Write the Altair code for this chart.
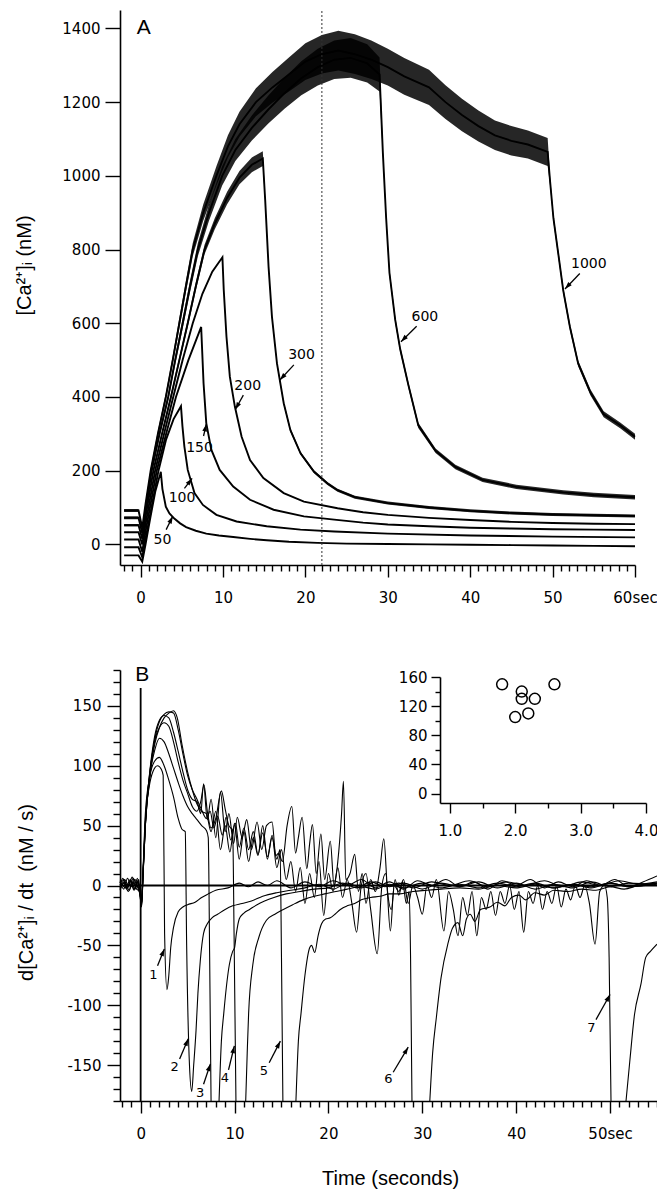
import math
import altair as alt
import pandas as pd

# ======================= DATA : panel A  ([Ca2+]i traces) =======================
A_names = ["1000", "600", "300", "200", "150", "100", "50"]
A_t = {
    "1000": [-2.0, -0.25, 0.2, 0.6, 1.22, 2.1, 3.06, 3.9, 4.7, 5.5, 6.33, 7.6, 9.2, 10.6, 12.0, 14.0, 16.0, 18.0,
             20.0, 22.0, 24.0, 26.0, 28.0, 30.0, 32.0, 35.0, 37.0, 39.0, 41.0, 43.0, 45.0, 47.0, 49.4, 49.7, 50.1,
             50.7, 51.3, 52.1, 53.1, 54.6, 56.2, 58.2, 60.0],
    "600": [-2.0, -0.25, 0.2, 0.6, 1.35, 2.3, 3.35, 4.2, 5.11, 6.0, 6.95, 8.3, 9.9, 11.5, 13.5, 15.5, 17.5, 19.5,
            21.5, 23.5, 25.5, 27.5, 29.0, 29.4, 29.8, 30.2, 30.9, 31.5, 32.5, 33.7, 35.8, 38.2, 41.5, 45.6, 51.3,
            55.0, 60.0],
    "300": [-2.0, -0.25, 0.2, 0.6, 1.55, 2.6, 3.68, 4.7, 5.72, 6.7, 7.76, 9.0, 10.5, 12.0, 13.5, 14.83, 15.12,
            15.53, 15.94, 16.55, 17.37, 18.18, 19.41, 21.05, 22.68, 23.9, 26.0, 30.0, 35.0, 40.0, 45.0, 50.0, 55.0,
            60.0],
    "200": [-2.0, -0.25, 0.2, 0.6, 1.76, 2.85, 3.96, 5.1, 6.33, 7.5, 8.7, 9.93, 10.09, 10.42, 10.83, 11.44, 12.26,
            13.28, 14.9, 17.37, 19.82, 23.9, 27.0, 30.0, 35.0, 40.0, 45.0, 50.0, 55.0, 60.0],
    "150": [-2.0, -0.25, 0.2, 0.6, 1.96, 3.1, 4.29, 5.8, 7.35, 7.64, 7.97, 8.58, 9.6, 11.24, 13.28, 16.14, 19.82,
            23.5, 27.0, 30.0, 35.0, 40.0, 45.0, 50.0, 55.0, 60.0],
    "100": [-2.0, -0.25, 0.2, 0.6, 2.17, 3.1, 4.0, 4.9, 5.08, 5.31, 5.72, 6.54, 7.56, 9.2, 11.65, 15.3, 19.4, 23.5,
            30.0, 40.0, 50.0, 60.0],
    "50": [-2.0, -0.25, 0.2, 0.6, 1.2, 1.8, 2.37, 2.45, 2.65, 3.06, 3.5, 4.09, 4.8, 5.52, 6.7, 7.97, 9.5, 11.24,
           13.3, 15.32, 18.0, 21.45, 25.0, 30.0, 35.0, 40.0, 45.0, 50.0, 55.0, 60.0],
}
A_v = {
    "1000": [92, 92, 45, 110, 200, 300, 400, 500, 600, 700, 800, 900, 1000, 1080, 1140, 1200, 1240, 1275, 1310,
             1330, 1340, 1330, 1315, 1295, 1270, 1240, 1200, 1165, 1135, 1110, 1095, 1085, 1065, 984, 885, 787,
             688, 590, 491, 412, 353, 323, 292],
    "600": [72, 72, 30, 90, 200, 300, 400, 500, 600, 700, 800, 900, 1000, 1070, 1130, 1180, 1225, 1265, 1295, 1315,
            1320, 1305, 1275, 1063, 885, 737, 609, 530, 432, 323, 254, 210, 175, 156, 141, 134, 128],
    "300": [52, 52, 15, 75, 200, 300, 400, 500, 600, 700, 800, 870, 940, 995, 1030, 1047, 934, 753, 618, 491, 383,
            310, 247, 197, 165, 147, 128, 112, 100, 91, 85, 81, 79, 77],
    "200": [33, 33, 0, 55, 200, 300, 400, 500, 600, 680, 740, 779, 691, 564, 455, 374, 292, 229, 180, 139, 116, 98,
            87, 80, 72, 66, 61, 58, 56, 55],
    "150": [13, 13, -20, 35, 200, 300, 400, 500, 590, 437, 329, 257, 202, 157, 121, 94, 76, 67, 59, 54, 49, 45, 43,
            41, 40, 39],
    "100": [-8, -8, -35, 15, 200, 285, 340, 375, 320, 266, 202, 139, 107, 80, 62, 49, 40, 35, 29, 24, 21, 19],
    "50": [-30, -30, -47, 0, 75, 145, 190, 197, 150, 102, 84, 70, 57, 47, 37, 29, 24, 20, 15, 11, 7, 4, 2, 1, 0,
           -1, -2, -3, -4, -5],
}
# half-width of the noise band seen on the noisy traces (nM)
A_w = {
    "1000": [4, 4, 4, 5, 6, 8, 10, 12, 14, 16, 18, 22, 26, 30, 34, 38, 42, 46, 50, 52, 54, 54, 52, 50, 50, 48, 46,
             44, 42, 40, 40, 38, 38, 12, 10, 10, 9, 9, 8, 8, 8, 8, 8],
    "600": [4, 4, 4, 5, 6, 8, 10, 12, 14, 16, 18, 22, 26, 30, 34, 38, 42, 46, 50, 52, 54, 52, 46, 12, 10, 10, 9, 8,
            8, 7, 6, 6, 6, 6, 6, 6, 6],
    "300": [3, 3, 3, 4, 5, 6, 8, 9, 10, 12, 13, 15, 17, 18, 20, 20, 8, 6, 6, 5, 5, 5, 4, 4, 4, 4, 4, 4, 4, 4, 4, 4,
            4, 4],
}
A_lab = ["50", "100", "150", "200", "300", "600", "1000"]
A_lab_t = [2.66, 5.03, 7.15, 13.0, 19.53, 34.5, 54.4]
A_lab_v = [12, 125, 262, 430, 515, 616, 762]
A_arr_t0 = [3.1, 5.32, 7.64, 12.47, 18.6, 33.5, 53.3]
A_arr_v0 = [40, 152, 294, 405, 487, 592, 735]
A_arr_t1 = [3.9, 6.25, 7.97, 11.5, 16.9, 31.6, 51.5]
A_arr_v1 = [76, 179, 326, 366, 446, 550, 693]
A_dot_t = 22.0

# ======================= DATA : panel B  (d[Ca2+]i/dt traces) =======================
B1 = [(-2.2, 2), (-1.8, 5), (-1.4, -2), (-1.0, 4), (-0.6, -3), (-0.3, 3), (-0.05, -8), (0.1, -15), (0.25, 10),
      (0.5, 55), (0.9, 82), (1.3, 95), (1.8, 100), (2.2, 97), (2.4, 92), (2.55, -40), (2.8, -87), (3.0, -75),
      (3.2, -52), (3.5, -35), (4.0, -22), (4.5, -18), (5.0, -16), (5.8, -14), (6.5, -10), (7.2, -7), (8.0, -4),
      (9.3, -2), (10.5, 2), (11.5, -1), (12.5, 3), (13.5, 0), (14.5, 4), (16, -2), (17.5, 3), (19, -1), (20.5, 4),
      (22, 0), (23.5, 5), (25, -2), (26.5, 3), (28, -3), (29.5, 4), (31, 0), (32.5, 5), (34, -1), (35.5, 3),
      (37, -3), (38.5, 4), (40, 0), (41.5, 5), (43, -2), (44.5, 3), (46, -1), (47.5, 4), (49, 0), (50.5, 5),
      (52, -1), (53.5, 3), (55, 8)]
B2 = [(-2.2, -3), (-1.7, 3), (-1.2, -4), (-0.8, 6), (-0.4, 0), (-0.05, -5), (0.1, -12), (0.25, 12), (0.5, 60),
      (1.0, 92), (1.5, 104), (2.0, 107), (2.5, 100), (3.0, 88), (3.5, 74), (4.0, 56), (4.4, 47), (4.75, 45),
      (4.9, -50), (5.2, -150), (5.44, -172), (5.65, -150), (5.9, -121), (6.1, -90), (6.35, -63), (6.7, -40),
      (7.1, -32), (7.6, -27), (8.2, -24), (9.0, -20), (9.8, -17), (10.8, -15), (11.8, -13), (13, -9), (14.5, -6),
      (16, -4), (17.5, -2), (19, 1), (20.5, -3), (22, 2), (23.5, -2), (25, 3), (26.5, -1), (28, 2), (30, -3),
      (32, 2), (34, -1), (36, 3), (38, -2), (40, 2), (42, -3), (44, 1), (46, -2), (48, 3), (50, -1), (52, 2),
      (55, 0)]
B3a = [(-2.2, 4), (-1.6, -2), (-1.1, 5), (-0.7, -3), (-0.3, 4), (-0.05, -10), (0.1, -18), (0.25, 8), (0.5, 50),
       (1.0, 93), (1.5, 113), (2.0, 123), (2.5, 120), (3.0, 110), (3.5, 98), (4.0, 86), (4.5, 75), (5.0, 66),
       (5.5, 60), (6.0, 55), (6.5, 50), (7.0, 46), (7.2, 40), (7.35, -60), (7.5, -180)]
B3b = [(8.35, -180), (8.6, -130), (8.85, -107), (9.2, -80), (9.45, -66), (9.8, -55), (10.0, -52), (10.2, -40),
       (10.5, -28), (11.0, -23), (11.6, -20), (12.4, -16), (13.2, -13), (14.2, -10), (15.5, -7), (17, -5),
       (18.5, -3), (20, -2), (21.5, 2), (23, -2), (24.5, 3), (26, -1), (27.5, 2), (29, -2), (31, 3), (33, 0),
       (35, 4), (37, -1), (39, 3), (41, 0), (43, 4), (45, -1), (47, 3), (49, 0), (51, 4), (53, 1), (55, 3)]
B4a = [(-2.2, -2), (-1.7, 5), (-1.3, 0), (-0.9, 7), (-0.5, -2), (-0.05, -6), (0.1, -14), (0.25, 10), (0.5, 52),
       (1.0, 96), (1.5, 121), (2.0, 132), (2.5, 136), (3.0, 133), (3.5, 120), (4.0, 103), (4.5, 88), (5.0, 77),
       (5.5, 66), (6.0, 62), (6.4, 70), (6.75, 84), (7.1, 62), (7.5, 48), (8.0, 56), (8.6, 79), (9.0, 64),
       (9.4, 50), (9.8, 46), (9.95, -40), (10.15, -180)]
B4b = [(11.19, -180), (11.35, -140), (11.5, -107), (11.95, -66), (12.6, -43), (13.4, -29), (14.3, -24),
       (15.2, -20), (16.2, -16), (17.3, -12), (18.5, -9), (19.6, -7), (20.8, -5), (22, -3), (23.5, -1), (25, -3),
       (26.5, 1), (28, -2), (30, 2), (32, -2), (34, 1), (36, -2), (38, 2), (40, -1), (42, 2), (44, -2), (46, 1),
       (48, -2), (50, 2), (52, -1), (55, 1)]
B5a = [(-2.2, 3), (-1.8, -3), (-1.4, 6), (-1.0, -1), (-0.6, 5), (-0.3, -2), (-0.05, -8), (0.1, -15), (0.25, 8),
       (0.5, 50), (1.0, 95), (1.5, 122), (2.0, 137), (2.5, 143), (3.0, 145), (3.5, 144), (4.0, 130), (4.5, 110),
       (5.0, 92), (5.5, 80), (6.0, 72), (6.5, 63), (7.0, 56), (7.4, 62), (7.8, 48), (8.2, 58), (8.7, 42),
       (9.1, 57), (9.6, 38), (10.1, 52), (10.5, 32), (11.0, 48), (11.5, 30), (12.0, 45), (12.5, 26), (13.0, 44),
       (13.5, 24), (14.0, 40), (14.5, 22), (14.85, 30), (15.0, -60), (15.15, -180)]
B5b = [(16.54, -180), (16.8, -130), (17.08, -107), (17.5, -75), (18.0, -52), (18.2, -50), (18.54, -56),
       (18.9, -42), (19.27, -32), (19.7, -28), (20.2, -27), (20.7, -24), (21.27, -20), (22, -17), (22.8, -15),
       (23.5, -12), (24.5, -10), (25.5, -9), (26.5, -7), (27.6, -7), (29, -5), (30.5, -4), (32, -3), (34, -2),
       (36, -3), (38, 0), (40, -2), (42, 1), (44, -2), (46, 1), (48, -1), (50, 2), (52, -1), (55, 2)]
B6a = [(-2.2, 0), (-1.9, 6), (-1.5, -3), (-1.1, 4), (-0.7, -4), (-0.35, 6), (-0.05, -7), (0.1, -16), (0.25, 9),
       (0.5, 52), (1.0, 97), (1.5, 125), (2.0, 138), (2.5, 142), (3.0, 140), (3.5, 128), (4.0, 112), (4.5, 95),
       (5.0, 80), (5.5, 72), (6.0, 70), (6.4, 60), (6.7, 85), (7.1, 55), (7.5, 72), (8.0, 40), (8.5, 78),
       (9.0, 45), (9.4, 60), (9.9, 35), (10.3, 57), (10.8, 40), (11.3, 55), (11.8, 30), (12.4, 53), (12.9, 30),
       (13.4, 50), (14.0, 53), (14.4, 25), (14.7, 27), (15.1, 20), (15.6, 50), (16.1, 66), (16.5, 27), (16.8, 40),
       (17.2, 57), (17.7, 14), (18.0, 35), (18.3, 51), (18.7, 10), (19.2, 43), (19.6, 5), (20.2, 37), (20.6, 0),
       (21.0, 20), (21.4, 60), (21.6, 87), (21.85, 5), (22.3, 10), (22.8, 26), (23.2, -5), (23.6, 10),
       (24.0, -15), (24.5, 5), (25.0, -5), (25.5, 15), (25.9, 39), (26.3, -5), (26.7, -20), (27.1, 5),
       (27.5, -8), (27.9, 3), (28.3, -15), (28.6, -5), (28.75, -60), (28.9, -180)]
B6b = [(30.8, -180), (31.1, -140), (31.5, -110), (32.0, -77), (32.75, -48), (33.2, -36), (33.8, -31),
       (34.3, -42), (34.7, -28), (35.1, -24), (35.6, -30), (36.2, -20), (37.2, -18), (38, -14), (38.8, -17),
       (39.5, -10), (40.3, -8), (41, -12), (42, -6), (43, -8), (44, -4), (45.5, -5), (47, -3), (48.5, -4),
       (50, -1), (51.5, -3), (53, 0), (55, 2)]
B7a = [(-2.2, -4), (-1.8, 2), (-1.3, -5), (-0.9, 3), (-0.5, -1), (-0.2, 5), (-0.05, -9), (0.1, -17), (0.25, 7),
       (0.5, 50), (1.0, 92), (1.5, 118), (2.0, 132), (2.5, 140), (3.0, 144), (3.5, 146), (3.9, 140), (4.4, 118),
       (5.0, 95), (5.5, 80), (6.0, 68), (6.5, 62), (7.0, 60), (7.5, 45), (8.0, 62), (8.5, 30), (9.0, 50),
       (9.5, 28), (10.0, 52), (10.5, 22), (11.0, 45), (11.5, 20), (12.0, 40), (12.5, 25), (13.0, 50), (13.5, 22),
       (14.0, 42), (14.5, 15), (15.0, 30), (15.5, 5), (16.0, 20), (16.5, -5), (17.0, 15), (17.5, -15),
       (18.0, 10), (18.5, -10), (19.0, 20), (19.5, -25), (20.0, 10), (20.5, -5), (21.0, 15), (21.5, -10),
       (22.0, 5), (22.5, -15), (23.0, -39), (23.5, 0), (24.0, 10), (24.5, -20), (25.2, -57), (25.7, 0),
       (26.1, 10), (26.6, -38), (27.0, 0), (27.5, -5), (28.0, 5), (28.5, -15), (29.0, 0), (29.5, -10),
       (30.0, -24), (30.5, 0), (31.0, -10), (31.5, 5), (32.3, -38), (32.8, -5), (33.3, -20), (33.8, -42),
       (34.3, -10), (34.8, -25), (35.3, -5), (35.8, -42), (36.3, -10), (36.8, -20), (37.3, -5), (37.8, -25),
       (38.3, -5), (38.8, -15), (39.3, 0), (39.8, -20), (40.3, -5), (40.8, -39), (41.3, -5), (41.8, -15),
       (42.3, 0), (42.8, -20), (43.3, -5), (43.8, -15), (44.3, 0), (44.8, -18), (45.3, -3), (45.8, -12),
       (46.3, 0), (46.8, -10), (47.3, 0), (47.8, -15), (48.4, -49), (48.9, -5), (49.4, 0), (49.7, -10),
       (49.9, -60), (50.1, -180)]
B7b = [(51.7, -180), (52.1, -147), (52.6, -108), (53.3, -82), (53.8, -60), (54.3, -55), (55.0, -49)]
B_segments = {"1": [B1], "2": [B2], "3": [B3a, B3b], "4": [B4a, B4b], "5": [B5a, B5b],
              "6": [B6a, B6b], "7": [B7a, B7b]}

B_lab = ["1", "2", "3", "4", "5", "6", "7"]
B_lab_t = [1.36, 3.61, 6.34, 8.96, 13.13, 26.4, 48.0]
B_lab_v = [-75, -152, -173, -161, -155, -162, -119]
B_arr_t0 = [1.8, 4.15, 6.7, 9.36, 13.69, 26.9, 48.5]
B_arr_v0 = [-67, -145, -166, -154, -148, -156, -112]
B_arr_t1 = [2.52, 5.07, 7.43, 9.98, 14.88, 28.5, 50.0]
B_arr_v1 = [-53, -128, -149, -134, -130, -135, -91]

# ======================= DATA : inset =======================
I_x = [1.8, 2.1, 2.1, 2.3, 2.0, 2.2, 2.6]
I_y = [150, 140, 130, 130, 105, 110, 150]

# ======================= layout (canvas pixels) =======================
W, H = 649, 1181
A_X0, A_X1, A_Y0, A_Y1 = 112, 627, 557, 2
B_X0, B_X1, B_Y0, B_Y1 = 112, 649, 1093, 662
I_X0, I_X1, I_Y0, I_Y1 = 432, 638, 795, 669
A_TD, A_VD = [-2.5, 60], [-56, 1450]
B_TD, B_VD = [-2.2, 55], [-180, 180]
I_XD, I_YD = [0.85, 4.0], [-13, 160]

sAx = alt.Scale(domain=A_TD, range=[A_X0, A_X1], nice=False, zero=False)
sAy = alt.Scale(domain=A_VD, range=[A_Y0, A_Y1], nice=False, zero=False)
sBx = alt.Scale(domain=B_TD, range=[B_X0, B_X1], nice=False, zero=False)
sBy = alt.Scale(domain=B_VD, range=[B_Y0, B_Y1], nice=False, zero=False)
sIx = alt.Scale(domain=I_XD, range=[I_X0, I_X1], nice=False, zero=False)
sIy = alt.Scale(domain=I_YD, range=[I_Y0, I_Y1], nice=False, zero=False)

A_sx = (A_X1 - A_X0) / (A_TD[1] - A_TD[0])
A_sy = (A_Y0 - A_Y1) / (A_VD[1] - A_VD[0])
B_sx = (B_X1 - B_X0) / (B_TD[1] - B_TD[0])
B_sy = (B_Y0 - B_Y1) / (B_VD[1] - B_VD[0])

AX = dict(domainColor="black", domainWidth=1.6, tickColor="black", tickWidth=1.4, labelColor="black",
          labelFont="DejaVu Sans", labelFontSize=15, grid=False, labelFlush=False, labelOverlap=False,
          titleColor="black", titleFont="Liberation Sans", titleFontSize=20, titleFontWeight="normal")

# ======================= tables =======================
rowsA = []
for nm in A_names:
    ws = A_w.get(nm)
    for i, (t, v) in enumerate(zip(A_t[nm], A_v[nm])):
        w = ws[i] if ws else 0
        rowsA.append(dict(trace=nm, t=t, v=v, lo=v - w, hi=v + w))
dfA = pd.DataFrame(rowsA)
dfA_band = dfA[dfA["trace"].isin(list(A_w.keys()))]

rowsB = []
for nm, segs in B_segments.items():
    for k, seg in enumerate(segs):
        for t, v in seg:
            rowsB.append(dict(seg=f"{nm}-{k}", t=t, v=v))
dfB = pd.DataFrame(rowsB)


def arrows(t0, v0, t1, v1, sx, sy):
    rows = []
    for a, b, c, d in zip(t0, v0, t1, v1):
        dx = (c - a) * sx
        dy = -(d - b) * sy
        ang = (math.degrees(math.atan2(dx, -dy)) + 360) % 360
        rows.append(dict(t0=a, v0=b, t1=c, v1=d, ang=ang))
    return pd.DataFrame(rows)


dfA_arr = arrows(A_arr_t0, A_arr_v0, A_arr_t1, A_arr_v1, A_sx, A_sy)
dfB_arr = arrows(B_arr_t0, B_arr_v0, B_arr_t1, B_arr_v1, B_sx, B_sy)
dfA_lab = pd.DataFrame(dict(t=A_lab_t, v=A_lab_v, lab=A_lab))
dfB_lab = pd.DataFrame(dict(t=B_lab_t, v=B_lab_v, lab=B_lab))
HEAD = "M0,0L0.75,2.3L-0.75,2.3Z"

# ======================= panel A =======================
axA_x = alt.Axis(orient="bottom", offset=A_Y0 - H, values=list(range(0, 61, 10)),
                 labelExpr="datum.value == 60 ? '60sec' : datum.label", tickSize=12, labelPadding=13,
                 title=None, **AX)
axA_y = alt.Axis(orient="left", offset=-A_X0, values=list(range(0, 1401, 200)), labelExpr="'' + datum.value",
                 tickSize=15, labelPadding=5,
                 title="[Ca²⁺]ᵢ (nM)", titleX=16 - A_X0, titleY=257, titleAngle=270, titleAlign="center",
                 titleBaseline="middle", **AX)


def xa(f):
    return alt.X(f, scale=sAx, axis=axA_x)


def ya(f):
    return alt.Y(f, scale=sAy, axis=axA_y)


A_band = alt.Chart(dfA_band).mark_area(color="black", opacity=0.85).encode(
    x=xa("t:Q"), y=ya("lo:Q"), y2="hi:Q", detail="trace:N")
A_lines = alt.Chart(dfA).mark_line(color="black", strokeWidth=1.9).encode(
    x=xa("t:Q"), y=ya("v:Q"), detail="trace:N")
A_dot = alt.Chart(pd.DataFrame(dict(t=[A_dot_t], v0=[A_VD[0]], v1=[A_VD[1]]))).mark_rule(
    color="#333333", strokeWidth=1, strokeDash=[2, 2]).encode(x=xa("t:Q"), y=ya("v0:Q"), y2="v1:Q")
A_text = alt.Chart(dfA_lab).mark_text(font="DejaVu Sans", fontSize=14, color="black", align="center",
                                      baseline="middle").encode(x=xa("t:Q"), y=ya("v:Q"), text="lab:N")
A_shaft = alt.Chart(dfA_arr).mark_rule(color="black", strokeWidth=1.3).encode(
    x=xa("t0:Q"), y=ya("v0:Q"), x2="t1:Q", y2="v1:Q")
A_head = alt.Chart(dfA_arr).mark_point(shape=HEAD, filled=True, size=40, color="black", opacity=1).encode(
    x=xa("t1:Q"), y=ya("v1:Q"), angle=alt.Angle("ang:Q", scale=None))
A_letter = alt.Chart(pd.DataFrame(dict(t=[0.37], v=[1400], lab=["A"]))).mark_text(
    font="Liberation Sans", fontSize=21, color="black", align="center", baseline="middle").encode(
    x=xa("t:Q"), y=ya("v:Q"), text="lab:N")
panelA = alt.layer(A_lines, A_band, A_dot, A_text, A_shaft, A_head, A_letter)

minA = alt.Chart(pd.DataFrame(dict(t=[0.0]))).mark_point(opacity=0).encode(
    x=alt.X("t:Q", scale=sAx, axis=alt.Axis(orient="bottom", offset=A_Y0 - H,
                                             values=[i for i in range(-2, 60) if i % 10],
                                             labels=False, domain=False, tickSize=6, title=None, **AX)))

# ======================= panel B =======================
axB_x = alt.Axis(orient="bottom", offset=B_Y0 - H, values=list(range(0, 51, 10)),
                 labelExpr="datum.value == 50 ? '50sec' : datum.label", tickSize=12, labelPadding=13,
                 title="Time (seconds)", titleX=382, titleY=77, titleAngle=0, titleAlign="center",
                 titleBaseline="middle", **AX)
axB_y = alt.Axis(orient="left", offset=-B_X0, values=list(range(-150, 151, 50)), labelExpr="'' + datum.value",
                 tickSize=13, labelPadding=6, title="d[Ca²⁺]ᵢ / dt\u00a0\u00a0(nM / s)", titleX=18 - B_X0,
                 titleY=884, titleAngle=270, titleAlign="center", titleBaseline="middle", **AX)


def xb(f):
    return alt.X(f, scale=sBx, axis=axB_x)


def yb(f):
    return alt.Y(f, scale=sBy, axis=axB_y)


B_lines = alt.Chart(dfB).mark_line(color="black", strokeWidth=1.1, interpolate="monotone").encode(
    x=xb("t:Q"), y=yb("v:Q"), detail="seg:N")
B_zero = alt.Chart(pd.DataFrame(dict(t0=[B_TD[0]], t1=[B_TD[1]], v=[0]))).mark_rule(
    color="black", strokeWidth=2).encode(x=xb("t0:Q"), x2="t1:Q", y=yb("v:Q"))
B_vert = alt.Chart(pd.DataFrame(dict(t=[0.0], v0=[-180], v1=[165]))).mark_rule(
    color="black", strokeWidth=1.8).encode(x=xb("t:Q"), y=yb("v0:Q"), y2="v1:Q")
B_text = alt.Chart(dfB_lab).mark_text(font="DejaVu Sans", fontSize=13, color="black", align="center",
                                      baseline="middle").encode(x=xb("t:Q"), y=yb("v:Q"), text="lab:N")
B_shaft = alt.Chart(dfB_arr).mark_rule(color="black", strokeWidth=1.3).encode(
    x=xb("t0:Q"), y=yb("v0:Q"), x2="t1:Q", y2="v1:Q")
B_head = alt.Chart(dfB_arr).mark_point(shape=HEAD, filled=True, size=40, color="black", opacity=1).encode(
    x=xb("t1:Q"), y=yb("v1:Q"), angle=alt.Angle("ang:Q", scale=None))
B_letter = alt.Chart(pd.DataFrame(dict(t=[0.18], v=[175.6], lab=["B"]))).mark_text(
    font="Liberation Sans", fontSize=21, color="black", align="center", baseline="middle").encode(
    x=xb("t:Q"), y=yb("v:Q"), text="lab:N")
panelB = alt.layer(B_lines, B_zero, B_vert, B_text, B_shaft, B_head, B_letter)

minB = alt.Chart(pd.DataFrame(dict(t=[0.0], v=[0.0]))).mark_point(opacity=0).encode(
    x=alt.X("t:Q", scale=sBx, axis=alt.Axis(orient="bottom", offset=B_Y0 - H,
                                             values=[i for i in range(-2, 56) if i % 10],
                                             labels=False, domain=False, tickSize=6, title=None, **AX)),
    y=alt.Y("v:Q", scale=sBy, axis=alt.Axis(orient="left", offset=-B_X0,
                                             values=[v for v in range(-180, 181, 10) if v % 50],
                                             labels=False, domain=False, tickSize=7, title=None, **AX)))

# ======================= inset =======================
axI_x = alt.Axis(orient="bottom", offset=I_Y0 - H, values=[1, 2, 3, 4], labelExpr="format(datum.value, '.1f')",
                 tickSize=10, labelPadding=10, title=None, **AX)
axI_y = alt.Axis(orient="left", offset=-I_X0, values=[0, 40, 80, 120, 160], labelExpr="'' + datum.value",
                 tickSize=9, labelPadding=4, title=None, **AX)
inset = alt.Chart(pd.DataFrame(dict(x=I_x, y=I_y))).mark_point(
    shape="circle", filled=False, size=120, strokeWidth=1.5, color="black", opacity=1).encode(
    x=alt.X("x:Q", scale=sIx, axis=axI_x), y=alt.Y("y:Q", scale=sIy, axis=axI_y))
minI = alt.Chart(pd.DataFrame(dict(x=[2.0], y=[50.0]))).mark_point(opacity=0).encode(
    x=alt.X("x:Q", scale=sIx, axis=alt.Axis(orient="bottom", offset=I_Y0 - H, values=[1.5, 2.5, 3.5],
                                             labels=False, domain=False, tickSize=5, title=None, **AX)),
    y=alt.Y("y:Q", scale=sIy, axis=alt.Axis(orient="left", offset=-I_X0, values=[20, 60, 100, 140],
                                             labels=False, domain=False, tickSize=5, title=None, **AX)))

chart = alt.layer(panelA, minA, panelB, minB, inset, minI).resolve_scale(
    x="independent", y="independent").properties(
    width=W, height=H, autosize=alt.AutoSizeParams(type="none"), padding=0).configure_view(stroke=None)

chart.save("out.html", embed_options={"renderer": "svg", "actions": False})
